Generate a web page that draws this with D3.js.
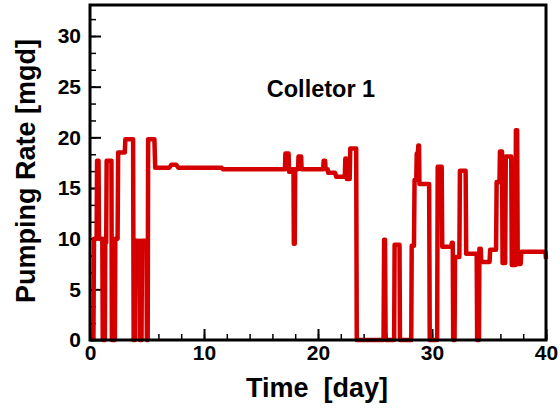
<!DOCTYPE html>
<html>
<head>
<meta charset="utf-8">
<script src="https://cdn.jsdelivr.net/npm/d3@7"></script>
<style>
  body { margin: 0; background: #fff; }
  text { font-family: "Liberation Sans", Arial, sans-serif; font-weight: bold; fill: #000; }
</style>
</head>
<body>
<svg id="chart"></svg>
<script>
// time in days, pumping rate in mgd
const days = [
  0.30, 0.35, 0.58, 0.62, 0.75, 0.79, 1.08, 1.12, 1.30, 1.34, 1.42, 1.46, 1.88, 1.92,
  2.18, 2.22, 2.42, 2.47, 3.05, 3.10, 3.78, 3.83, 3.93, 3.97, 4.33, 4.37, 4.52, 4.56,
  4.95, 4.99, 5.06, 5.10, 5.65, 5.72, 6.95, 7.15, 7.55, 7.75, 11.55, 11.65,
  17.10, 17.14, 17.42, 17.46, 17.65, 17.70, 17.85, 17.88, 17.96, 18.00, 18.25, 18.29,
  18.52, 18.56, 20.45, 20.50, 20.62, 20.67, 20.85, 20.90, 21.50, 21.60, 22.35, 22.40,
  22.48, 22.53, 22.78, 22.83, 23.35, 23.40, 25.75, 25.80, 25.88, 25.93, 26.68, 26.72,
  27.15, 27.19, 28.18, 28.22, 28.42, 28.47, 28.62, 28.66, 28.76, 28.80, 28.86, 28.90,
  29.75, 29.80, 30.45, 30.50, 30.85, 30.90, 31.70, 31.74, 31.82, 31.86, 31.98, 32.02,
  32.40, 32.45, 32.95, 33.00, 33.92, 33.96, 34.12, 34.16, 34.28, 34.32, 35.05, 35.10,
  35.62, 35.67, 35.92, 35.96, 36.14, 36.19, 36.42, 36.47, 36.95, 37.00, 37.32, 37.36,
  37.47, 37.52, 37.78, 37.83, 39.95, 40.00
];
const rates = [
  0, 10.0, 10.0, 17.7, 17.7, 10.0, 10.0, 0, 0, 9.6, 9.6, 17.7, 17.7, 0,
  0, 10.0, 10.0, 18.5, 18.5, 19.8, 19.8, 0, 0, 9.8, 9.8, 0, 0, 9.8,
  9.8, 0, 0, 19.8, 19.8, 17.0, 17.0, 17.3, 17.3, 17.0, 17.0, 16.85,
  16.85, 18.4, 18.4, 16.6, 16.6, 16.85, 16.85, 9.5, 9.5, 16.85, 16.85, 18.1,
  18.1, 16.85, 16.85, 17.7, 17.7, 16.85, 16.85, 16.5, 16.5, 16.1, 16.1, 17.9,
  17.9, 15.9, 15.9, 18.9, 18.9, 0, 0, 9.9, 9.9, 0, 0, 9.4,
  9.4, 0, 0, 9.3, 9.3, 15.8, 15.8, 18.4, 18.4, 19.2, 19.2, 15.4,
  15.4, 0, 0, 17.1, 17.1, 9.2, 9.2, 9.6, 9.6, 0, 0, 8.2,
  8.2, 16.7, 16.7, 8.5, 8.5, 0, 0, 9.0, 9.0, 7.7, 7.7, 8.9,
  8.9, 15.6, 15.6, 18.6, 18.6, 7.6, 7.6, 18.1, 18.1, 7.4, 7.4, 20.7,
  20.7, 7.5, 7.5, 8.7, 8.7, 8.0
];
const xTicks = [0, 10, 20, 30, 40];
const yTicks = [0, 5, 10, 15, 20, 25, 30];
const title = 'Colletor 1';

const fullWidth = 560, fullHeight = 408;
const margin = {top: 5, right: 14, bottom: 68, left: 90};
const width = fullWidth - margin.left - margin.right;
const height = fullHeight - margin.top - margin.bottom;

const x = d3.scaleLinear().domain([0, 40]).range([0, width]);
const y = d3.scaleLinear().domain([0, 33.06]).range([height, 0]);

const svg = d3.select('#chart')
    .attr('width', fullWidth)
    .attr('height', fullHeight);

const g = svg.append('g')
    .attr('transform', `translate(${margin.left},${margin.top})`);

// minor ticks
g.append('g')
    .attr('transform', `translate(0,${height})`)
    .call(d3.axisBottom(x).tickValues(d3.range(0, 41, 2)).tickSize(-6).tickFormat(''))
    .call(a => a.select('.domain').remove())
    .call(a => a.selectAll('line').attr('stroke-width', 1.5));
g.append('g')
    .call(d3.axisLeft(y).tickValues(d3.range(0, 33, 5 / 3)).tickSize(-6).tickFormat(''))
    .call(a => a.select('.domain').remove())
    .call(a => a.selectAll('line').attr('stroke-width', 1.5));

// major ticks with labels
g.append('g')
    .attr('transform', `translate(0,${height})`)
    .call(d3.axisBottom(x).tickValues(xTicks).tickSize(-11).tickPadding(5))
    .call(a => a.select('.domain').remove())
    .call(a => a.selectAll('line').attr('stroke-width', 2))
    .call(a => a.selectAll('text').attr('font-size', 21).attr('fill', '#000'));
g.append('g')
    .call(d3.axisLeft(y).tickValues(yTicks).tickSize(-11).tickPadding(9))
    .call(a => a.select('.domain').remove())
    .call(a => a.selectAll('line').attr('stroke-width', 2))
    .call(a => a.selectAll('text').attr('font-size', 21).attr('fill', '#000'));

const line = d3.line()
    .x((d, i) => x(d))
    .y((d, i) => y(rates[i]));

g.append('path')
    .datum(days)
    .attr('fill', 'none')
    .attr('stroke', '#d40000')
    .attr('stroke-width', 4.5)
    .attr('stroke-linejoin', 'round')
    .attr('d', line);

// frame
g.append('rect')
    .attr('width', width)
    .attr('height', height)
    .attr('fill', 'none')
    .attr('stroke', '#000')
    .attr('stroke-width', 3);

svg.append('text')
    .attr('x', 321)
    .attr('y', 96.5)
    .attr('text-anchor', 'middle')
    .attr('font-size', 23.5)
    .text(title);

svg.append('text')
    .attr('x', 317)
    .attr('y', 397)
    .attr('text-anchor', 'middle')
    .attr('font-size', 27)
    .attr('xml:space', 'preserve')
    .style('white-space', 'pre')
    .text('Time  [day]');

svg.append('text')
    .attr('transform', `translate(35,171) rotate(-90)`)
    .attr('text-anchor', 'middle')
    .attr('font-size', 27)
    .text('Pumping Rate [mgd]');
</script>
</body>
</html>
